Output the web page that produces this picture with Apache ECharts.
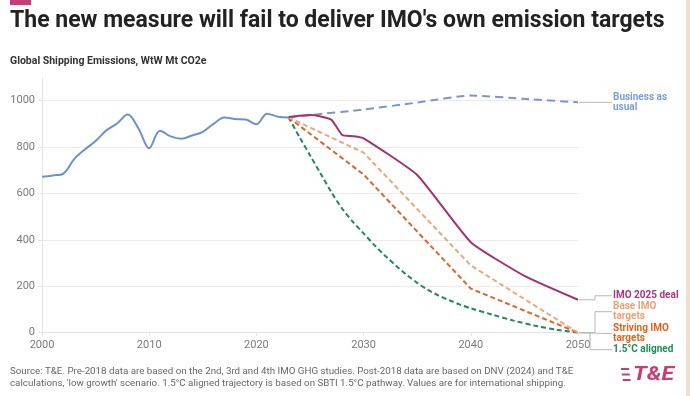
<!DOCTYPE html>
<html>
<head>
<meta charset="utf-8">
<script src="https://cdn.jsdelivr.net/npm/echarts@6/dist/echarts.min.js"></script>
<style>
  html, body { margin: 0; padding: 0; background: #fff; }
  #chart { width: 690px; height: 396px; }
</style>
</head>
<body>
<div id="chart"></div>
<script>
// --- data (Mt CO2e) ---
var histYears = [2000, 2001, 2002, 2003, 2004, 2005, 2006, 2007, 2008, 2009, 2010, 2011,
                 2012, 2013, 2014, 2015, 2016, 2017, 2018, 2019, 2020, 2021, 2022, 2023];
var histValues = [672, 678, 686, 748, 790, 826, 872, 902, 940, 880, 795, 870,
                  846, 836, 850, 866, 900, 928, 921, 919, 898, 944, 931, 928];

var bauYears = [2023, 2025, 2030, 2035, 2040, 2045, 2050];
var bauValues = [928, 938, 962, 992, 1022, 1008, 993];

var dealYears = [2023, 2024, 2025, 2026, 2027, 2028, 2029, 2030, 2035, 2040, 2045, 2050];
var dealValues = [930, 935, 938, 932, 918, 852, 847, 838, 680, 390, 245, 142];

var baseYears = [2023, 2030, 2040, 2050];
var baseValues = [928, 776, 290, 0];

var strivingYears = [2023, 2030, 2040, 2050];
var strivingValues = [928, 682, 190, 0];

var alignedYears = [2023, 2024, 2025, 2026, 2027, 2028, 2029, 2030, 2031, 2032, 2033, 2034,
                    2035, 2036, 2037, 2038, 2039, 2040, 2042, 2044, 2046, 2048, 2050];
var alignedValues = [928, 845, 765, 685, 605, 535, 478, 428, 378, 332, 290, 250,
                     215, 185, 160, 140, 121, 105, 78, 52, 30, 13, 0];

var yearTicks = [2000, 2010, 2020, 2030, 2040, 2050];

function pairs(xs, ys) {
  return xs.map(function(x, i) { return [x, ys[i]]; });
}

var colHist = '#6f8fcf';
var colBau = '#7f95c6';
var colDeal = '#a3336d';
var colBase = '#f0a57a';
var colStriving = '#e0652a';
var colAligned = '#1f8a5c';
var gridCol = '#ebebeb';
var axisText = '#7a7a7a';
var font = 'Roboto';

var chart = echarts.init(document.getElementById('chart'), null, { renderer: 'canvas' });

chart.setOption({
  animation: false,
  backgroundColor: '#fff',
  title: [{
    text: "The new measure will fail to deliver IMO's own emission targets",
    left: 10, top: 10, padding: 0,
    textStyle: { fontFamily: font, fontSize: 23, fontWeight: 'bold', color: '#222' }
  }, {
    text: 'Global Shipping Emissions, WtW Mt CO2e',
    left: 10, top: 56, padding: 0,
    textStyle: { fontFamily: font, fontSize: 10.5, fontWeight: 'bold', color: '#333' }
  }],
  grid: { left: 42, right: 112, top: 77.5, bottom: 63.3, containLabel: false, outerBoundsMode: 'none' },
  xAxis: {
    type: 'value',
    min: 2000, max: 2050, interval: 10,
    axisLine: { show: true, lineStyle: { color: '#e4e4e4' } },
    axisTick: { show: true, length: 3, lineStyle: { color: '#e4e4e4' } },
    splitLine: { show: false },
    axisLabel: {
      color: axisText, fontFamily: font, fontSize: 11, margin: 7,
      formatter: function(v) { return yearTicks.indexOf(v) >= 0 ? String(v) : ''; }
    }
  },
  yAxis: {
    type: 'value',
    min: 0, max: 1100, interval: 200,
    axisLine: { show: true, lineStyle: { color: '#e4e4e4' } },
    axisTick: { show: true, length: 4, lineStyle: { color: '#e4e4e4' } },
    splitLine: { show: true, showMaxLine: false, lineStyle: { color: gridCol } },
    axisLabel: {
      color: axisText, fontFamily: font, fontSize: 11, margin: 7, showMaxLabel: false,
      formatter: function(v) { return String(v); }
    }
  },
  series: [{
    name: 'Historical', type: 'line', smooth: 0.35, symbol: 'none',
    lineStyle: { color: colHist, width: 2 },
    data: pairs(histYears, histValues), z: 3
  }, {
    name: 'Business as usual', type: 'line', smooth: 0.2, symbol: 'none',
    lineStyle: { color: colBau, width: 2, type: [8, 5] },
    data: pairs(bauYears, bauValues), z: 2
  }, {
    name: '1.5°C aligned', type: 'line', smooth: 0.3, symbol: 'none',
    lineStyle: { color: colAligned, width: 2, type: [5, 3] },
    data: pairs(alignedYears, alignedValues), z: 2
  }, {
    name: 'Striving IMO targets', type: 'line', symbol: 'none',
    lineStyle: { color: colStriving, width: 2, type: [5, 3] },
    data: pairs(strivingYears, strivingValues), z: 3
  }, {
    name: 'Base IMO targets', type: 'line', symbol: 'none',
    lineStyle: { color: colBase, width: 2, type: [5, 3] },
    data: pairs(baseYears, baseValues), z: 3
  }, {
    name: 'IMO 2025 deal', type: 'line', smooth: 0.15, symbol: 'none',
    lineStyle: { color: colDeal, width: 2 },
    data: pairs(dealYears, dealValues), z: 4
  }]
});

// end labels with elbow leader lines
var endLabels = [
  { text: 'Business as\nusual', color: '#7b9ddc', x: bauYears[bauYears.length - 1], y: bauValues[bauValues.length - 1], dy: 0, elbow: 0 },
  { text: 'IMO 2025 deal', color: '#a8377a', x: dealYears[dealYears.length - 1], y: dealValues[dealValues.length - 1], dy: -4, elbow: 17 },
  { text: 'Base IMO\ntargets', color: '#f0a070', x: baseYears[baseYears.length - 1], y: baseValues[baseValues.length - 1], dy: -21, elbow: 17 },
  { text: 'Striving IMO\ntargets', color: '#e0621f', x: strivingYears[strivingYears.length - 1], y: strivingValues[strivingValues.length - 1], dy: 1, elbow: 0 },
  { text: '1.5°C aligned', color: '#1e8b5c', x: alignedYears[alignedYears.length - 1], y: alignedValues[alignedValues.length - 1], dy: 17, elbow: 12 }
];

var graphics = [];
var labelX = 613;
endLabels.forEach(function(l) {
  var p = chart.convertToPixel({ gridIndex: 0 }, [l.x, l.y]);
  var ty = p[1] + l.dy;
  var pts = l.elbow
    ? [[p[0] + 1, p[1]], [p[0] + l.elbow, p[1]], [p[0] + l.elbow, ty], [labelX - 1, ty]]
    : [[p[0] + 1, p[1]], [labelX - 1, ty]];
  graphics.push({
    type: 'polyline', silent: true, z: 1,
    shape: { points: pts },
    style: { stroke: '#b8b8b8', lineWidth: 1, fill: null }
  });
  graphics.push({
    type: 'text', silent: true, z: 5,
    style: {
      text: l.text, x: labelX, y: ty, fill: l.color,
      font: 'bold 10px ' + font, verticalAlign: 'middle', lineHeight: 10.5
    }
  });
});

// frame bits, footer and logo
graphics.push({ type: 'rect', shape: { x: 10, y: 0, width: 21, height: 5 }, style: { fill: '#c73d74' } });
graphics.push({ type: 'rect', shape: { x: 686, y: 0, width: 4, height: 396 }, style: { fill: '#efdfcc' } });
graphics.push({
  type: 'text', silent: true,
  style: {
    text: "Source: T&E. Pre-2018 data are based on the 2nd, 3rd and 4th IMO GHG studies. Post-2018 data are based on DNV (2024) and T&E\n" +
          "calculations, 'low growth' scenario. 1.5°C aligned trajectory is based on SBTI 1.5°C pathway. Values are for international shipping.",
    x: 10, y: 366, fill: '#666', font: '9.75px ' + font, lineHeight: 12, verticalAlign: 'top'
  }
});
[369, 374.5, 380].forEach(function(y, i) {
  graphics.push({ type: 'rect', shape: { x: 621 + i * 0.8, y: y - 1, width: 8, height: 2 }, style: { fill: '#c73d74' } });
});
graphics.push({
  type: 'text', silent: true, scaleX: 1.15, x: 633, y: 375,
  style: { text: 'T&E', x: 0, y: 0, fill: '#c73d74', font: 'italic bold 20px ' + font, verticalAlign: 'middle' }
});

chart.setOption({ graphic: graphics });

window.addEventListener('resize', function() { chart.resize(); });
</script>
</body>
</html>
